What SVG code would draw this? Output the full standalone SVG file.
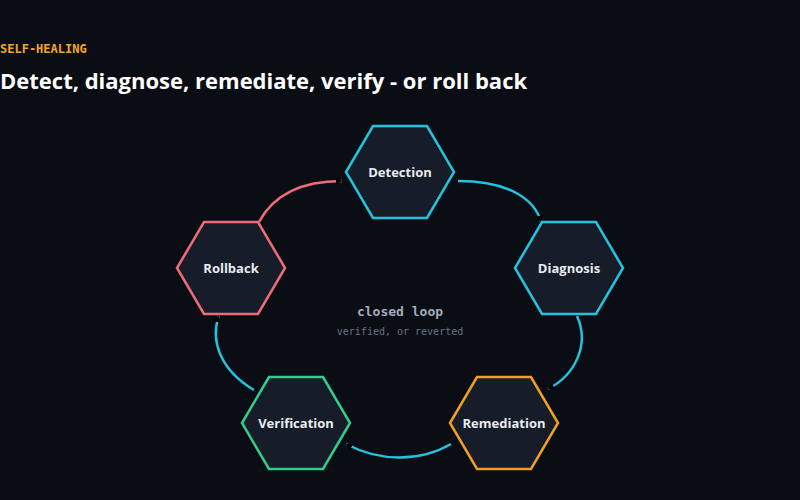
<svg xmlns="http://www.w3.org/2000/svg" width="800" height="500" viewBox="0 0 800 500">
<defs>
<marker id="ah" viewBox="0 0 10 10" refX="9" refY="5" markerWidth="7" markerHeight="7" orient="auto-start-reverse" markerUnits="userSpaceOnUse"><path d="M0,0L10,5L0,10z" fill="#000"/></marker>
<polygon id="hex" points="-54,0 -27,-46 27,-46 54,0 27,46 -27,46"/>
</defs>
<style>
.hx{fill:#161c28;stroke-width:2.5}
.lb{font-family:"Open Sans","Noto Sans",sans-serif;font-weight:700;font-size:13px;fill:#e8ecf2;text-anchor:middle}
.cn{fill:none;stroke-width:2.5;marker-end:url(#ah)}
</style>
<rect width="800" height="500" fill="#0a0d14"/>
<text x="0" y="53" font-family="'DejaVu Sans Mono',monospace" font-weight="700" font-size="12" fill="#f5a623">SELF-HEALING</text>
<text x="0" y="89" font-family="'Open Sans','Noto Sans',sans-serif" font-weight="700" font-size="22" fill="#ffffff">Detect, diagnose, remediate, verify - or roll back</text>
<text x="400" y="316" font-family="'DejaVu Sans Mono',monospace" font-weight="700" font-size="13" fill="#a3acbb" text-anchor="middle">closed loop</text>
<text x="400" y="335" font-family="'DejaVu Sans Mono',monospace" font-size="10" fill="#6b7383" text-anchor="middle">verified, or reverted</text>
<g id="connectors">
<path class="cn" stroke="#22c3dd" d="M458,181 C510,181 535,200 541,222"/>
<path class="cn" stroke="#22c3dd" d="M577,316 C590,345 575,375 548,389"/>
<path class="cn" stroke="#22c3dd" d="M451,444 C420,462 380,462 346,444"/>
<path class="cn" stroke="#22c3dd" d="M254,390 C220,370 210,340 219,316"/>
<path class="cn" stroke="#ef6b7b" d="M259,222 C275,192 305,181 342,181"/>
</g>
<g id="detection"><use href="#hex" x="400" y="172" class="hx" stroke="#22c3dd"/><text class="lb" x="400" y="177">Detection</text></g>
<g id="diagnosis"><use href="#hex" x="569" y="268" class="hx" stroke="#22c3dd"/><text class="lb" x="569" y="273">Diagnosis</text></g>
<g id="remediation"><use href="#hex" x="504" y="423" class="hx" stroke="#f0a020"/><text class="lb" x="504" y="428">Remediation</text></g>
<g id="verification"><use href="#hex" x="296" y="423" class="hx" stroke="#2fcf8a"/><text class="lb" x="296" y="428">Verification</text></g>
<g id="rollback"><use href="#hex" x="231" y="268" class="hx" stroke="#ef6b7b"/><text class="lb" x="231" y="273">Rollback</text></g>
</svg>
